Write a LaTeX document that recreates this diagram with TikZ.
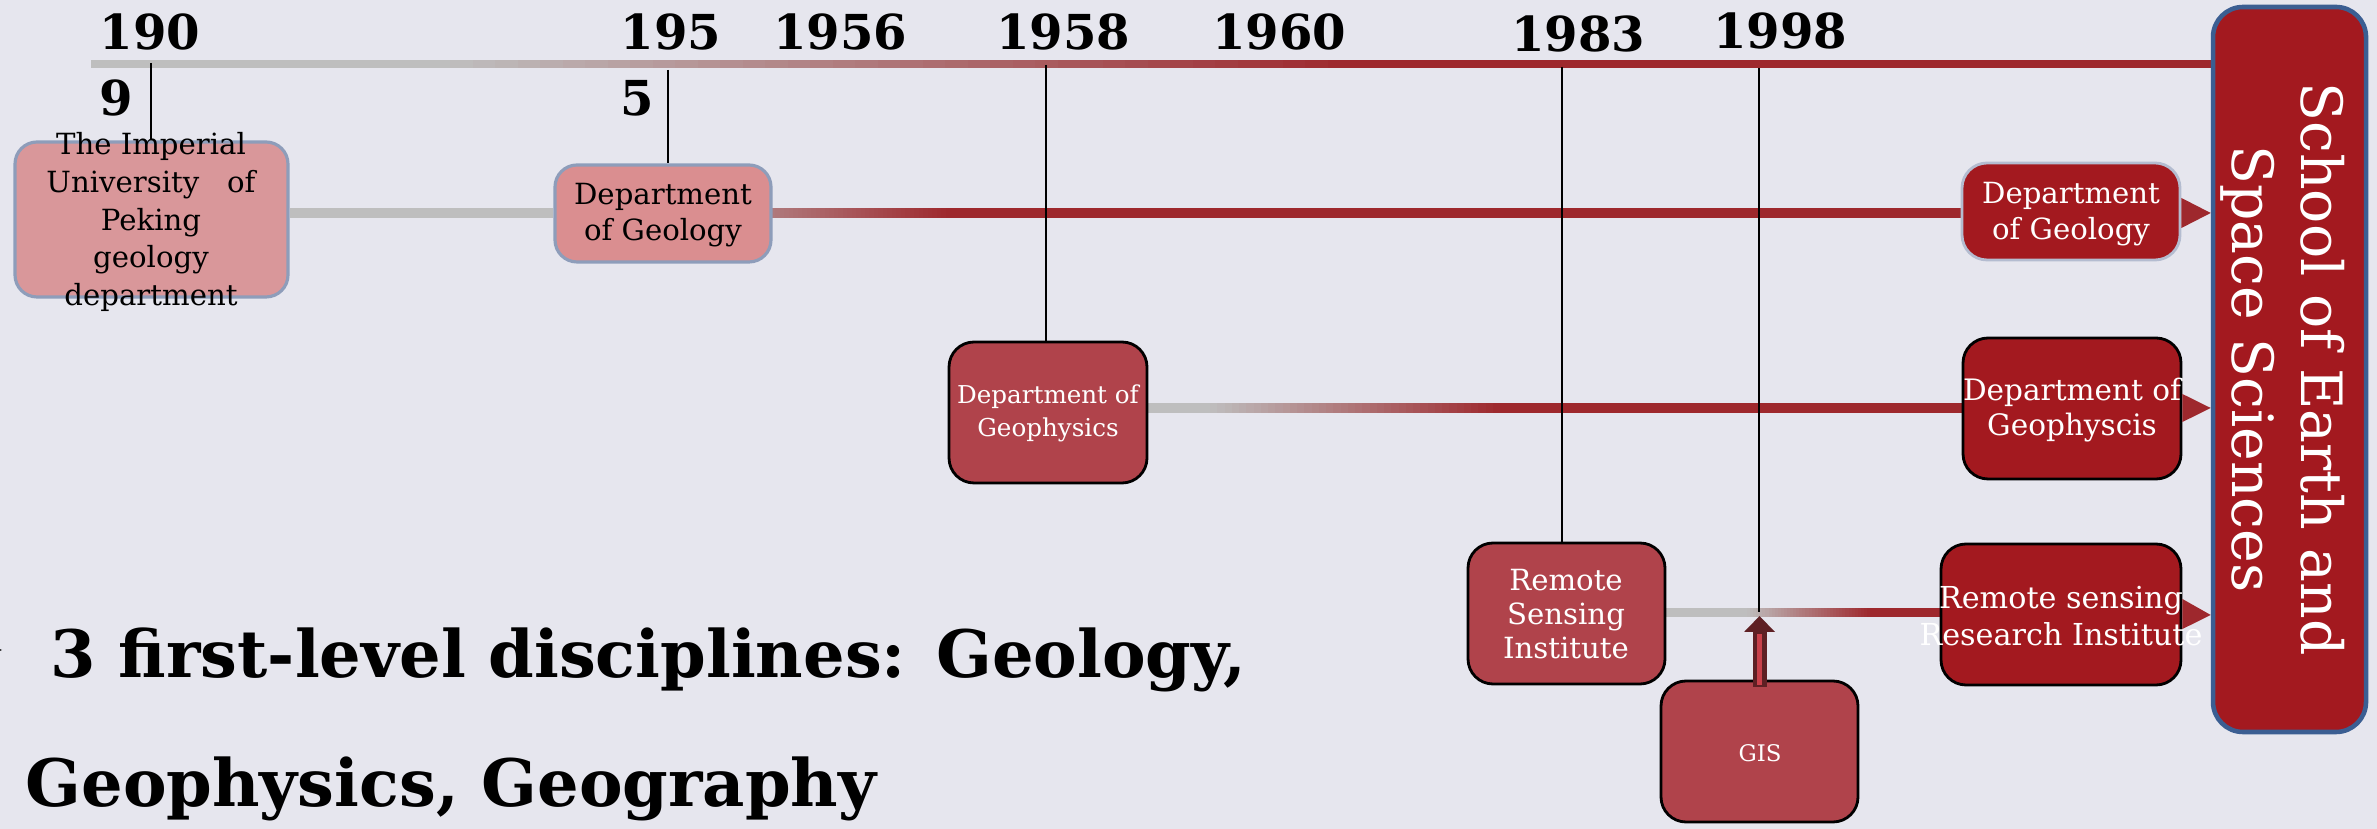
\documentclass[tikz,border=0pt]{standalone}
\usepackage{fontspec}
\setmainfont{DejaVu Serif}
\usetikzlibrary{arrows.meta,calc}
\pgfdeclarelayer{bg}
\pgfdeclarelayer{bars}
\pgfdeclarelayer{lines}
\pgfsetlayers{bg,bars,lines,main}
\definecolor{bgc}{HTML}{E6E6EE}
\definecolor{barred}{HTML}{9E282D}
\definecolor{bargray}{HTML}{BEBEBE}
\definecolor{darkred}{HTML}{A3191F}
\definecolor{midred}{HTML}{B0434B}
\definecolor{pinkA}{HTML}{D9979A}
\definecolor{pinkB}{HTML}{DA8E90}
\definecolor{pinkedge}{HTML}{8E9DBA}
\definecolor{lightedge}{HTML}{B4BCD0}
\definecolor{schooledge}{HTML}{3B5E92}
\definecolor{arrowdark}{HTML}{5E2024}
\definecolor{stripe}{HTML}{C8404A}
\tikzset{
  pinkbox/.style={draw=pinkedge, line width=0.9pt, rounded corners=2.2mm, inner sep=0pt},
  redbox/.style={draw=black, line width=0.8pt, rounded corners=2.5mm, fill=midred, inner sep=0pt},
  darkbox/.style={draw=black, line width=0.8pt, rounded corners=2.5mm, fill=darkred, inner sep=0pt},
  wtxt/.style={text=white, align=center, inner sep=0pt},
  btxt/.style={text=black, align=center, inner sep=0pt},
  yr/.style={font=\fontsize{13.7}{18.7}\selectfont\bfseries, inner sep=0pt, align=left},
  vline/.style={draw=black, line width=0.5pt},
  bigtxt/.style={anchor=base west, inner sep=0pt, font=\fontsize{18.6}{25}\selectfont\bfseries},
}
\newcommand\tlgray[3]{\fill[bargray] ($(#1)+(0,-#3)$) rectangle ($(#2)+(0,#3)$);}
\newcommand\tlred[3]{\fill[barred] ($(#1)+(0,-#3)$) rectangle ($(#2)+(0,#3)$);}
% gradient part of a bar, drawn as thin steps: x0, x1, y, half thickness, start percentage of red
\newcommand\gradbar[5]{%
  \foreach \i in {0,...,39}{%
    \pgfmathsetmacro\xa{#1+(#2-#1)/40*\i}%
    \pgfmathsetmacro\xb{#1+(#2-#1)/40*(\i+1)+0.8}%
    \pgfmathsetmacro\pc{#5+(100-#5)/40*(\i+0.5)}%
    \fill[barred!\pc!bargray] (\xa,#3-#4) rectangle (\xb,#3+#4);
  }}
\begin{document}
\begin{tikzpicture}[x=0.1mm,y=-0.1mm]
\useasboundingbox (0,0) rectangle (2377,829);
\begin{pgfonlayer}{bg}
\fill[bgc] (0,0) rectangle (2377,829);
\end{pgfonlayer}

% boxes
\node[pinkbox, fill=pinkA, minimum width=27.3mm, minimum height=15.5mm] (imp) at (151.5,219.5) {};
\node[pinkbox, fill=pinkB, minimum width=21.6mm, minimum height=9.7mm] (geoA) at (663,213.5) {};
\node[darkbox, draw=lightedge, minimum width=21.8mm, minimum height=9.7mm] (geoB) at (2071,211.5) {};
\node[redbox, minimum width=19.8mm, minimum height=14.1mm] (gphA) at (1048,412.5) {};
\node[darkbox, minimum width=21.8mm, minimum height=14.1mm] (gphB) at (2072,408.5) {};
\node[redbox, minimum width=19.7mm, minimum height=14.1mm] (rsi) at (1566.5,613.5) {};
\node[darkbox, minimum width=24mm, minimum height=14.1mm] (rsr) at (2061,614.5) {};
\node[redbox, minimum width=19.7mm, minimum height=14.1mm] (gis) at (1759.5,751.5) {};
\node[draw=schooledge, line width=1.3pt, fill=darkred, rounded corners=3mm, minimum width=15.3mm, minimum height=72.5mm, inner sep=0pt] (school) at (2289.5,369.5) {};

% box texts
\node[btxt, font=\fontsize{8.3}{10.8}\selectfont] (impT) at (151,222) {The Imperial\\University\ \ \ of\\Peking\\geology\\department};
\node[btxt, font=\fontsize{8.3}{10.2}\selectfont] (geoAT) at (663,215) {Department\\of Geology};
\node[wtxt, font=\fontsize{8.3}{10.2}\selectfont] (geoBT) at (2071,214) {Department\\of Geology};
\node[wtxt, font=\fontsize{7}{9.4}\selectfont] (gphAT) at (1048,413) {Department of\\Geophysics};
\node[wtxt, font=\fontsize{8.4}{10.2}\selectfont] (gphBT) at (2072,410) {Department of\\Geophyscis};
\node[wtxt, font=\fontsize{8.3}{9.6}\selectfont] (rsiT) at (1566,614) {Remote\\Sensing\\Institute};
\node[wtxt, font=\fontsize{8.6}{10.5}\selectfont] (rsrT) at (2061,616) {Remote sensing\\Research Institute};
\node[wtxt, font=\fontsize{6.5}{9}\selectfont] (gisT) at (1760,753) {GIS};
\node[wtxt, rotate=-90, font=\fontsize{16.2}{19.6}\selectfont] (schoolT) at (2283,369) {School of Earth and\\Space Sciences};

% years
\node[yr, anchor=north west] (y1909) at (99,13) {190\\9};
\node[yr, anchor=north west] (y1955) at (620,13) {195\\5};
\node[yr, anchor=north] (y1956) at (840,13) {1956};
\node[yr, anchor=north] (y1958) at (1063,13) {1958};
\node[yr, anchor=north] (y1960) at (1279,13) {1960};
\node[yr, anchor=north] (y1983) at (1578,15) {1983};
\node[yr, anchor=north] (y1998) at (1780,12) {1998};

% bottom text
\node[bigtxt] (lineA) at (50,678) {3 first-level disciplines: Geology,};
\node[bigtxt] (lineB) at (25,807) {Geophysics, Geography};
\fill[black] (-10,645) -- (2,650) -- (-10,655) -- cycle;

% bar coordinates
\coordinate (rowA) at (0,64);
\coordinate (rowB) at (0,213);
\coordinate (rowC) at (0,408);
\coordinate (rowD) at (0,613);
\coordinate (tl0) at (91,64);
\coordinate (tl1) at (450,64);
\coordinate (tl2) at (1350,64);
\coordinate (rBg) at (950,213);
\coordinate (rCa) at (1210,408);
\coordinate (rCb) at (1500,408);
\coordinate (rDa) at (1747,613);
\coordinate (rDb) at (1870,613);

\begin{pgfonlayer}{bars}
% top timeline
\tlgray{tl0}{tl1}{4}
\gradbar{450}{1350}{64}{4}{0}
\tlred{tl2}{school.west|-rowA}{4}
% row B
\tlgray{imp.east|-rowB}{geoA.west|-rowB}{5}
\gradbar{771}{950}{213}{5}{45}
\tlred{rBg}{geoB.center|-rowB}{5}
% row C
\tlgray{gphA.east|-rowC}{rCa}{5}
\gradbar{1210}{1500}{408}{5}{0}
\tlred{rCb}{gphB.center|-rowC}{5}
% row D
\tlgray{rsi.east|-rowD}{rDa}{4.5}
\gradbar{1747}{1870}{613}{4.5}{0}
\tlred{rDb}{rsr.center|-rowD}{4.5}
\end{pgfonlayer}
% arrow heads into school box
\fill[barred] ($(geoB.east|-rowB)+(0,-15)$) -- (school.west|-rowB) -- ($(geoB.east|-rowB)+(0,15)$) -- cycle;
\fill[barred] ($(gphB.east|-rowC)+(0,-14)$) -- (school.west|-rowC) -- ($(gphB.east|-rowC)+(0,14)$) -- cycle;
\fill[barred] ($(rsr.east|-rowD)+(0,-14)$) -- ($(school.west|-rowD)+(0,2)$) -- ($(rsr.east|-rowD)+(0,16)$) -- cycle;

% vertical year lines
\coordinate (v1909) at (151,63);
\coordinate (v1955) at (668,70);
\coordinate (v1958) at (1046,65);
\coordinate (v1983) at (1562,67);
\coordinate (v1998) at (1759,68);
\begin{pgfonlayer}{lines}
\draw[vline] (v1909) -- (v1909|-imp.north);
\draw[vline] (v1955) -- (v1955|-geoA.north);
\draw[vline] (v1958) -- (v1958|-gphA.north);
\draw[vline] (v1983) -- (v1983|-rsi.north);
\draw[vline] (v1998) -- ($(v1998|-rowD)+(0,-1)$);
\end{pgfonlayer}

% GIS arrow
\draw[line width=1.4mm, arrowdark, -{Triangle[width=3mm,length=1.6mm]}] ($(gis.north)+(0,7)$) -- ($(gis.north|-rowD)+(0,3)$);
\draw[line width=0.45mm, stripe] ($(gis.north)+(0,5)$) -- ($(gis.north|-rowD)+(0,21)$);
\end{tikzpicture}
\end{document}
